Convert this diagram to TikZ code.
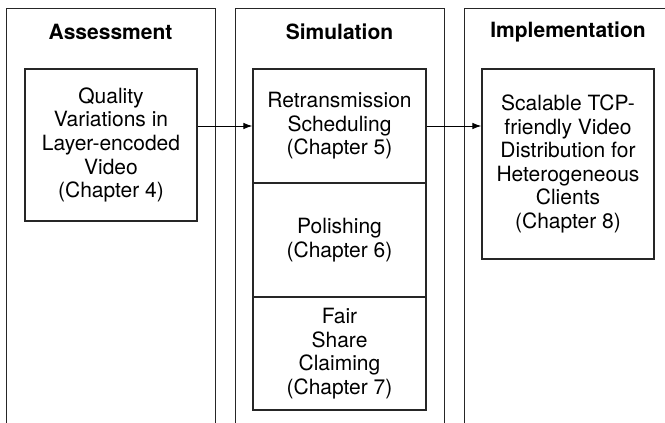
\documentclass[tikz,border=0pt]{standalone}
\usepackage{fontspec}
\setmainfont{TeX Gyre Heros}
\usetikzlibrary{arrows.meta}
\begin{document}
\begin{tikzpicture}[x=1pt,y=-1pt,
  frame/.style={line width=1pt, draw=black!85},
  chapbox/.style={draw=black!85, line width=1.2pt, inner sep=0pt, align=center,
    font=\fontsize{21}{23.6}\selectfont, minimum width=#1},
  title/.style={font=\fontsize{21}{23.6}\selectfont\bfseries, inner sep=0pt},
  flow/.style={line width=1pt, -{Latex[length=9pt,width=6.5pt]}}
]
\useasboundingbox (0,0) rectangle (665,423);
% columns
\draw[frame] (6,423) -- (6,8) -- (215,8) -- (215,423);
\draw[frame] (235,423) -- (235,8) -- (444,8) -- (444,423);
\draw[frame] (464,423) -- (464,8) -- (665,8);
% titles
\node[title] (t1) at (110.5,32) {Assessment};
\node[title] (t2) at (339.5,32) {Simulation};
\node[title] (t3) at (568,32) {Implementation};
% boxes
\node[chapbox=172pt, minimum height=152pt] (a) at (111,145)
  {Quality\\Variations in\\Layer-encoded\\Video\\(Chapter 4)};
\node[chapbox=173pt, minimum height=114pt] (r) at (339.5,126)
  {Retransmission\\Scheduling\\(Chapter 5)};
\node[chapbox=173pt, minimum height=114pt] (p) at (339.5,240)
  {Polishing\\(Chapter 6)};
\node[chapbox=173pt, minimum height=113pt] (f) at (339.5,353.5)
  {Fair\\Share\\Claiming\\(Chapter 7)};
\node[chapbox=172pt, minimum height=190pt] (i) at (568,164)
  {Scalable TCP-\\friendly Video\\Distribution for\\Heterogeneous\\Clients\\(Chapter 8)};
% arrows
\draw[flow] (a.east |- r.west) -- (r.west);
\draw[flow] (r.east) -- (i.west |- r.east);
\end{tikzpicture}
\end{document}
